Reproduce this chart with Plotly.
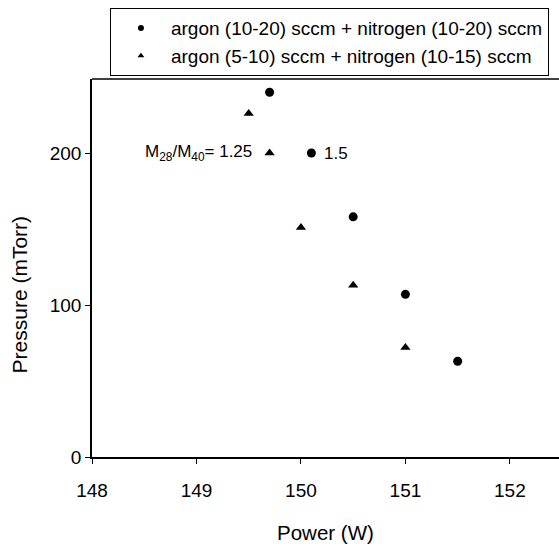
import plotly.graph_objects as go

# Data
power_a = [149.7, 150.1, 150.5, 151.0, 151.5]
pressure_a = [240, 200, 158, 107, 63]
power_b = [149.5, 149.7, 150.0, 150.5, 151.0]
pressure_b = [226, 200, 151, 113, 72]
label_a = "argon (10-20) sccm + nitrogen (10-20) sccm"
label_b = "argon (5-10) sccm + nitrogen (10-15) sccm"
x_ticks = [148, 149, 150, 151, 152]
y_ticks = [0, 100, 200]

FONT = "Arial, Liberation Sans, sans-serif"

fig = go.Figure()
fig.add_trace(go.Scatter(x=power_a, y=pressure_a, mode="markers", name=label_a,
                         showlegend=False,
                         marker=dict(symbol="circle", size=9, color="black")))
fig.add_trace(go.Scatter(x=power_b, y=pressure_b, mode="markers", name=label_b,
                         showlegend=False,
                         marker=dict(symbol="triangle-up", size=9, color="black")))
# legend entries (smaller legend symbols as in the reference)
fig.add_trace(go.Scatter(x=[None], y=[None], mode="markers", name=label_a,
                         marker=dict(symbol="circle", size=6, color="black")))
fig.add_trace(go.Scatter(x=[None], y=[None], mode="markers", name=label_b,
                         marker=dict(symbol="triangle-up", size=6, color="black")))

fig.add_annotation(x=148.49, y=200, xref="x", yref="y", xanchor="left", yanchor="middle",
                   text="M<sub>28</sub>/M<sub>40</sub>= 1.25", showarrow=False,
                   font=dict(family=FONT, size=17, color="black"))
fig.add_annotation(x=150.2, y=200, xref="x", yref="y", xanchor="left", yanchor="middle",
                   text="1.5", showarrow=False,
                   font=dict(family=FONT, size=17, color="black"))

# axis titles
fig.add_annotation(x=0.5, y=0, xref="paper", yref="paper", yshift=-75, yanchor="middle",
                   text="Power (W)", showarrow=False,
                   font=dict(family=FONT, size=20.5, color="black"))
fig.add_annotation(x=0, y=0.43, xref="paper", yref="paper", xshift=-73, xanchor="center",
                   yanchor="middle", textangle=-90,
                   text="Pressure (mTorr)", showarrow=False,
                   font=dict(family=FONT, size=21, color="black"))

# top frame line
fig.add_shape(type="line", xref="paper", yref="paper", x0=0, x1=1, y0=1, y1=1,
              line=dict(color="black", width=1.5))

fig.update_layout(
    width=559, height=544,
    margin=dict(l=92, r=0, t=79, b=87),
    paper_bgcolor="white", plot_bgcolor="white",
    font=dict(family=FONT, color="black"),
    showlegend=True,
    legend=dict(x=0.038, y=1.188, xanchor="left", yanchor="top",
                bordercolor="black", borderwidth=1.2, bgcolor="white",
                font=dict(family=FONT, size=19, color="black"),
                tracegroupgap=0, itemwidth=50),
    xaxis=dict(range=[148, 152.47], tickvals=x_ticks, ticks="outside", ticklen=5,
               tickcolor="black", showline=True, linecolor="black", linewidth=1.5,
               showgrid=False, zeroline=False, ticklabelstandoff=10,
               tickfont=dict(family=FONT, size=19, color="black")),
    yaxis=dict(range=[0, 248.7], tickvals=y_ticks, ticks="outside", ticklen=5,
               tickcolor="black", showline=True, linecolor="black", linewidth=1.5,
               showgrid=False, zeroline=False,
               tickfont=dict(family=FONT, size=19, color="black")),
)

fig.write_html("out.html")
